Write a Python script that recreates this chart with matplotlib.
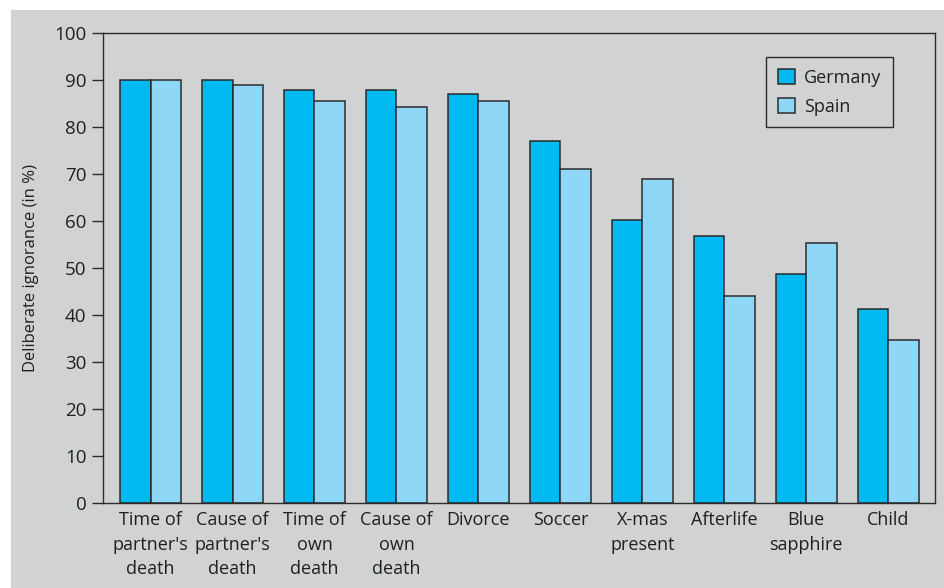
import matplotlib
matplotlib.use("Agg")
import matplotlib.pyplot as plt
import numpy as np
from matplotlib.patches import Rectangle

categories = ["Time of\npartner's\ndeath", "Cause of\npartner's\ndeath", "Time of\nown\ndeath",
              "Cause of\nown\ndeath", "Divorce", "Soccer", "X-mas\npresent", "Afterlife",
              "Blue\nsapphire", "Child"]
germany = [90.0, 90.0, 87.8, 87.8, 87.0, 77.0, 60.2, 56.8, 48.8, 41.3]
spain = [90.0, 88.9, 85.6, 84.2, 85.6, 71.1, 68.9, 44.1, 55.4, 34.6]
yticks = [0, 10, 20, 30, 40, 50, 60, 70, 80, 90, 100]

plt.rcParams['font.family'] = ['Open Sans', 'DejaVu Sans']
BG = '#d1d2d4'
EDGE = '#2b2b2b'
TXT = '#231f20'

fig = plt.figure(figsize=(9.44, 5.88), dpi=100, facecolor='white')
fig.patches.append(Rectangle((11/944, 0), 1, 1 - 10/588, transform=fig.transFigure,
                             facecolor=BG, edgecolor='none', zorder=-10))
ax = fig.add_axes([103/944, 1 - 503/588, (935 - 103)/944, (503 - 33)/588])
ax.set_facecolor(BG)

x = np.arange(len(categories))
w = 0.37
ax.bar(x - w/2, germany, w, color='#00b9f0', edgecolor=EDGE, linewidth=1.1, label='Germany')
ax.bar(x + w/2, spain, w, color='#8fd7f6', edgecolor=EDGE, linewidth=1.1, label='Spain')

ax.set_xlim(-0.58, 9.57)
ax.set_ylim(0, 100)
ax.set_yticks(yticks)
ax.set_xticks(x)
ax.set_xticklabels(categories, fontsize=13, color=TXT, linespacing=1.45)
ax.tick_params(axis='x', length=0, pad=6)
ax.tick_params(axis='y', length=8, width=1.0, color=EDGE, labelsize=13.5, labelcolor=TXT, pad=4)
for s in ax.spines.values():
    s.set_color(EDGE)
    s.set_linewidth(1.0)
ax.set_ylabel('Deliberate ignorance (in %)', fontsize=12, color=TXT, labelpad=11)

leg = ax.legend(loc='upper right', bbox_to_anchor=(893/944, 1 - 57/588),
                bbox_transform=fig.transFigure, borderaxespad=0, fontsize=13,
                handlelength=0.95, handleheight=0.95, handletextpad=0.5,
                fancybox=False, framealpha=1, facecolor=BG, edgecolor=EDGE,
                borderpad=0.65, labelspacing=0.6)
leg.get_frame().set_linewidth(1.0)
for t in leg.get_texts():
    t.set_color(TXT)

fig.savefig('out.png', dpi=100, facecolor=fig.get_facecolor())
